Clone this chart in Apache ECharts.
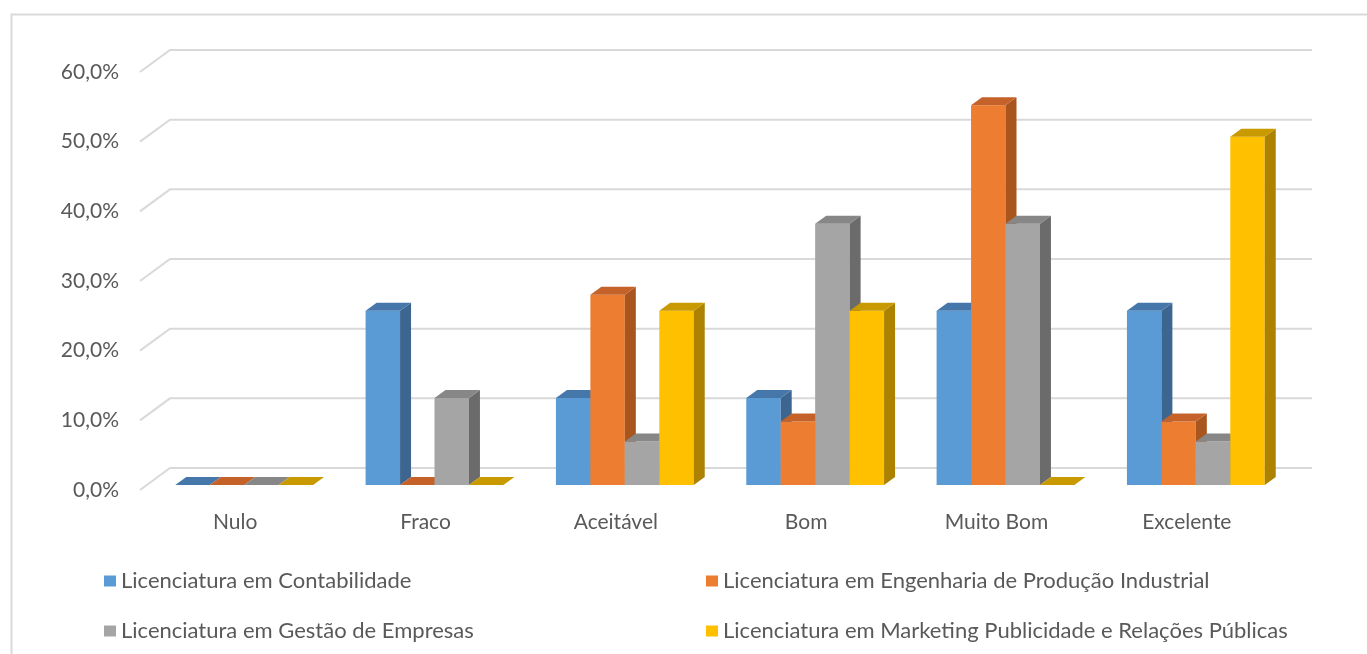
<!DOCTYPE html>
<html>
<head>
<meta charset="utf-8">
<script src="https://cdn.jsdelivr.net/npm/echarts@6/dist/echarts.min.js"></script>
<style>
  html, body { margin: 0; padding: 0; background: #fff; }
  #chart { width: 1367px; height: 654px; }
</style>
</head>
<body>
<div id="chart"></div>
<script>
// categorias e valores (%)
const categories = ['Nulo', 'Fraco', 'Aceitável', 'Bom', 'Muito Bom', 'Excelente'];
const contabilidade = [0, 25, 12.5, 12.5, 25, 25];
const engenharia = [0, 0, 27.3, 9.1, 54.5, 9.1];
const gestao = [0, 12.5, 6.25, 37.5, 37.5, 6.25];
const marketing = [0, 0, 25, 25, 0, 50];
const yTicks = [0, 10, 20, 30, 40, 50, 60];

const names = [
  'Licenciatura em Contabilidade',
  'Licenciatura em Engenharia de Produção Industrial',
  'Licenciatura em Gestão de Empresas',
  'Licenciatura em Marketing Publicidade e Relações Públicas'
];

// cores: frente, lado, topo
const faces = [
  ['#5B9BD5', '#3C6690', '#4677AA'],
  ['#ED7D31', '#A9551E', '#C5622A'],
  ['#A5A5A5', '#6B6B6B', '#878787'],
  ['#FFC000', '#AC8200', '#C99A00']
];

// deslocamentos do efeito 3D
const WALL_DX = 30, WALL_DY = -22;
const FX = 9, FY = -5;
const DX = 11, DY = -8;

const font = 'Lato';
const textColor = '#595959';

function barRender(idx) {
  const c = faces[idx];
  return function (params, api) {
    const cat = api.value(0), v = api.value(1);
    const base = api.coord([cat, 0]);
    const top = api.coord([cat, v]);
    const band = api.size([1, 0])[0];
    const bw = band * 0.181;
    const x0 = base[0] - 2 * bw + idx * bw + FX;
    const x1 = x0 + bw;
    const yb = base[1] + FY, yt = top[1] + FY;
    return {
      type: 'group',
      children: [
        { type: 'polygon', shape: { points: [[x0, yb], [x1, yb], [x1, yt], [x0, yt]] }, style: { fill: c[0] } },
        { type: 'polygon', shape: { points: [[x1, yb], [x1 + DX, yb + DY], [x1 + DX, yt + DY], [x1, yt]] }, style: { fill: c[1] } },
        { type: 'polygon', shape: { points: [[x0, yt], [x1, yt], [x1 + DX, yt + DY], [x0 + DX, yt + DY]] }, style: { fill: c[2] } }
      ]
    };
  };
}

function gridRender(params, api) {
  const cs = params.coordSys;
  const y = api.coord([0, api.value(1)])[1];
  return {
    type: 'polyline',
    shape: { points: [[cs.x, y], [cs.x + WALL_DX, y + WALL_DY], [cs.x + cs.width + WALL_DX, y + WALL_DY]] },
    style: { stroke: '#D9D9D9', lineWidth: 2, fill: null }
  };
}

const allValues = [contabilidade, engenharia, gestao, marketing];

const series = [{
  type: 'custom',
  name: 'grid',
  silent: true,
  clip: false,
  z: 1,
  renderItem: gridRender,
  data: yTicks.map(v => [0, v])
}];
allValues.forEach((vals, i) => {
  series.push({
    type: 'custom',
    name: names[i],
    clip: false,
    z: 2,
    itemStyle: { color: faces[i][0] },
    renderItem: barRender(i),
    data: vals.map((v, k) => [k, v])
  });
});

const legendPos = [[104, 570], [706, 570], [104, 620], [706, 620]];
const legends = names.map((n, i) => ({
  data: [n],
  left: legendPos[i][0],
  top: legendPos[i][1],
  padding: 0,
  icon: 'rect',
  itemWidth: 12,
  itemHeight: 11,
  selectedMode: false,
  textStyle: { color: textColor, fontSize: 22, fontFamily: font }
}));

const chart = echarts.init(document.getElementById('chart'));
chart.setOption({
  backgroundColor: '#fff',
  animation: false,
  graphic: [{
    type: 'rect',
    left: 9, top: 12,
    shape: { width: 1420, height: 700 },
    style: { fill: null, stroke: '#D9D9D9', lineWidth: 2 },
    silent: true
  }],
  legend: legends,
  grid: { left: 140, top: 72, width: 1142, height: 418 },
  xAxis: {
    type: 'category',
    data: categories,
    axisLine: { show: false },
    axisTick: { show: false },
    axisLabel: { color: textColor, fontSize: 21, fontFamily: font, margin: 22 }
  },
  yAxis: {
    type: 'value',
    min: 0, max: 60, interval: 10,
    axisLine: { show: false },
    axisTick: { show: false },
    splitLine: { show: false },
    axisLabel: {
      color: textColor, fontSize: 21, fontFamily: font, margin: 21,
      formatter: v => v.toFixed(1).replace('.', ',') + '%'
    }
  },
  series: series
});
</script>
</body>
</html>
